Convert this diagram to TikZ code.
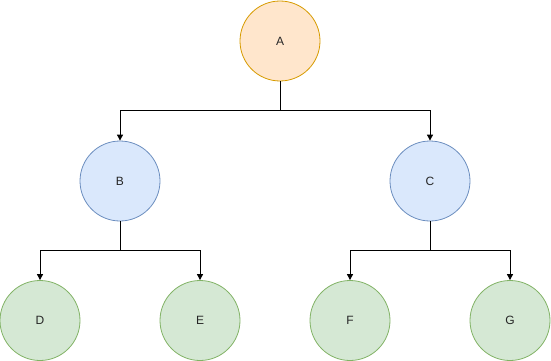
\documentclass[tikz,border=0pt]{standalone}
\usepackage{fontspec}
\setmainfont{Liberation Sans}
\usetikzlibrary{arrows.meta}
\definecolor{orfill}{HTML}{FFE6CC}\definecolor{ordraw}{HTML}{D79B00}
\definecolor{blfill}{HTML}{DAE8FC}\definecolor{bldraw}{HTML}{6C8EBF}
\definecolor{grfill}{HTML}{D5E8D4}\definecolor{grdraw}{HTML}{82B366}
\tikzset{
  nd/.style={circle, minimum size=80pt, inner sep=0pt, line width=0.8pt, font=\fontsize{12pt}{14pt}\selectfont, text=black!85},
  orn/.style={nd, fill=orfill, draw=ordraw},
  bln/.style={nd, fill=blfill, draw=bldraw},
  grn/.style={nd, fill=grfill, draw=grdraw},
  conn/.style={line width=0.9pt, -{Triangle[length=6pt,width=6pt]}}
}
\begin{document}
\begin{tikzpicture}[x=1pt,y=-1pt]
\useasboundingbox (0,0) rectangle (551,361);
\node[orn] (A) at (280,41) {A};
\node[bln] (B) at (120,181) {B};
\node[bln] (C) at (430,181) {C};
\node[grn] (D) at (40,320.5) {D};
\node[grn] (E) at (200,320.5) {E};
\node[grn] (F) at (350,320.5) {F};
\node[grn] (G) at (510,320.5) {G};
\coordinate (ja) at (280,110);
\coordinate (jb) at (120,250);
\coordinate (jc) at (430,250);
\draw[conn] (A.south) -- (ja) -| (B.north);
\draw[conn] (A.south) -- (ja) -| (C.north);
\draw[conn] (B.south) -- (jb) -| (D.north);
\draw[conn] (B.south) -- (jb) -| (E.north);
\draw[conn] (C.south) -- (jc) -| (F.north);
\draw[conn] (C.south) -- (jc) -| (G.north);
\end{tikzpicture}
\end{document}
